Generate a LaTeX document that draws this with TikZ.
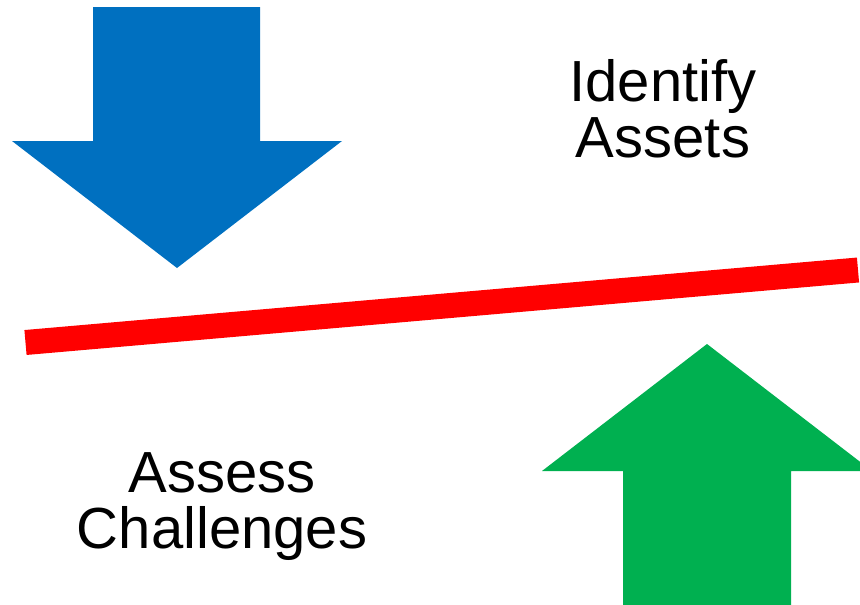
\documentclass[tikz,border=0pt]{standalone}
\usepackage{fontspec}
\setmainfont{Liberation Sans}
\definecolor{arrowblue}{HTML}{0070C0}
\definecolor{arrowgreen}{HTML}{00B050}
\definecolor{balred}{HTML}{FF0000}
\begin{document}
\begin{tikzpicture}[x=1pt,y=-1pt,
  label text/.style={font=\fontsize{58}{56}\selectfont, align=center, inner sep=0pt, anchor=base},
  beam/.style={draw=balred, line width=25pt, line cap=butt}]
\useasboundingbox (0,0) rectangle (860,605);
% blue down arrow
\fill[arrowblue] (93,7) -- (260,7) -- (260,141) -- (342,141) -- (177,268) -- (12,141) -- (93,141) -- cycle;
% green up arrow
\fill[arrowgreen] (623,605) -- (623,471) -- (542,471) -- (707,344) -- (872,471) -- (791,471) -- (791,605) -- cycle;
% red beam
\coordinate (beamL) at (25.5,342.5);
\coordinate (beamR) at (858,270);
\draw[beam] (beamL) -- (beamR);
% labels
\node[label text] (ident) at (663,157) {Identify\\Assets};
\node[label text] (assess) at (222,548) {Assess\\Challenges};
\end{tikzpicture}
\end{document}
